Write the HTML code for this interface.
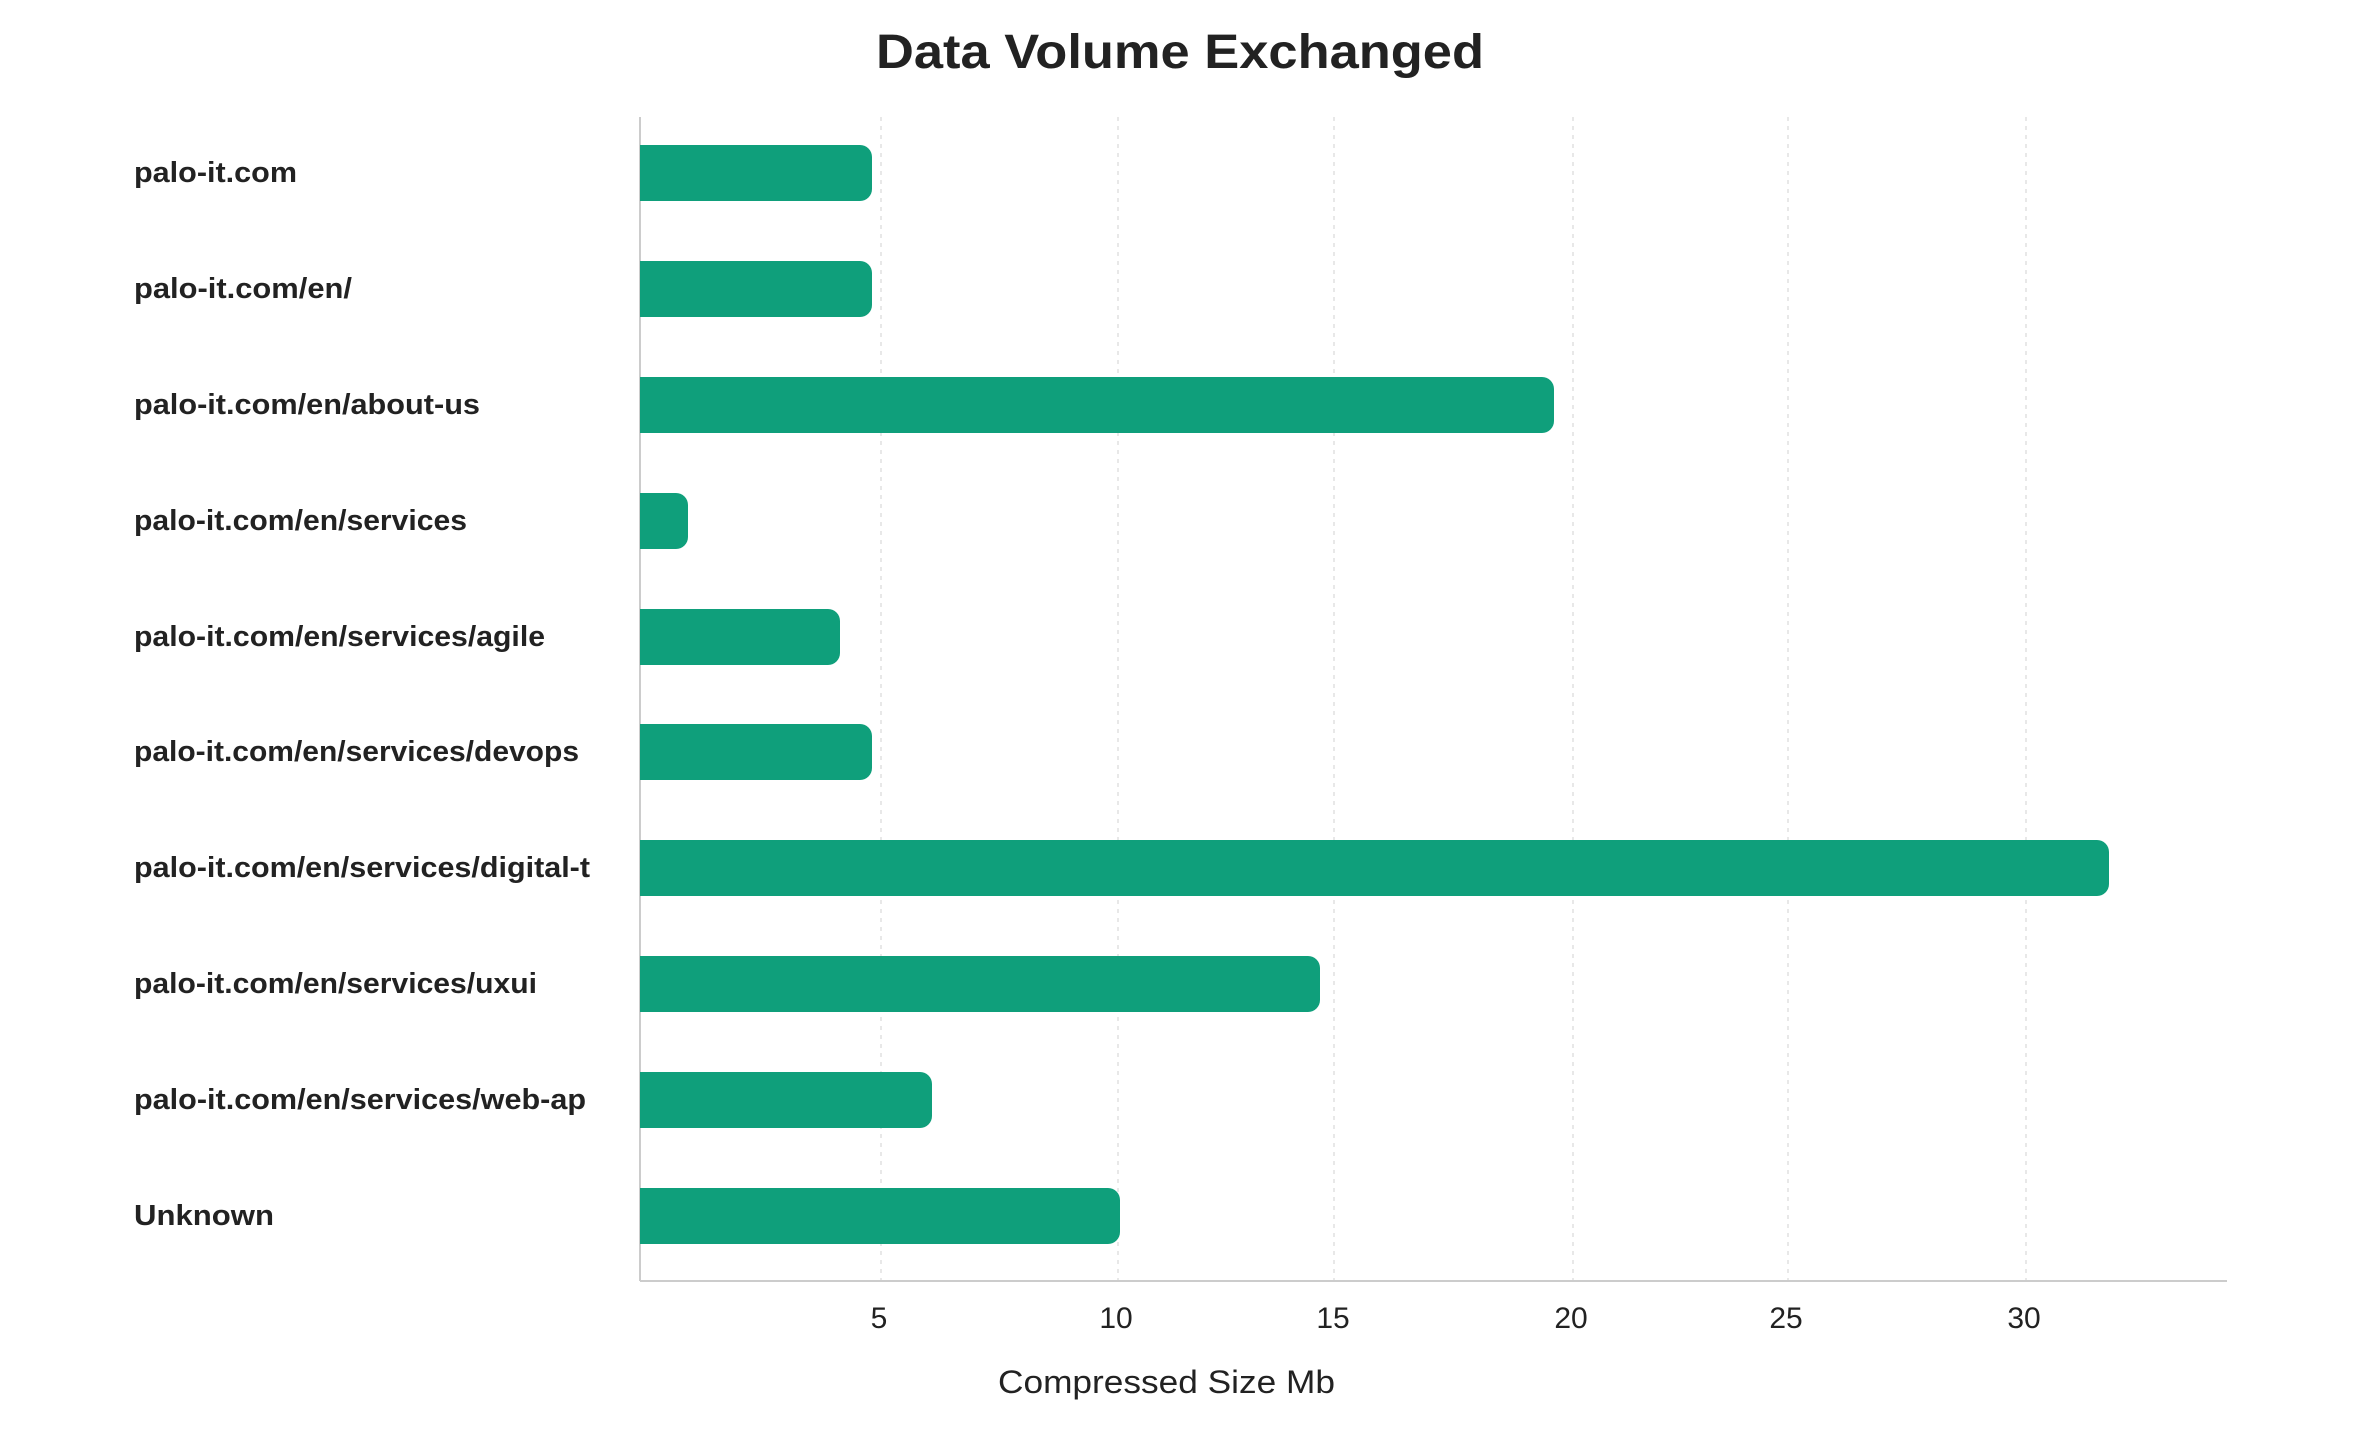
<!DOCTYPE html>
<html><head><meta charset="utf-8"><style>
html,body{margin:0;padding:0;background:#fff;}
svg{display:block;font-family:"Liberation Sans",sans-serif;}
</style></head><body>
<svg width="2360" height="1440" viewBox="0 0 2360 1440" xmlns="http://www.w3.org/2000/svg">
<text x="876" y="68" textLength="608" lengthAdjust="spacingAndGlyphs" font-size="48" font-weight="bold" fill="#222">Data Volume Exchanged</text>
<g stroke="#e8e8e8" stroke-width="2" stroke-dasharray="4,5">
<line x1="881" y1="117" x2="881" y2="1281"/>
<line x1="1118" y1="117" x2="1118" y2="1281"/>
<line x1="1334" y1="117" x2="1334" y2="1281"/>
<line x1="1573" y1="117" x2="1573" y2="1281"/>
<line x1="1788" y1="117" x2="1788" y2="1281"/>
<line x1="2026" y1="117" x2="2026" y2="1281"/>
</g>
<line x1="640" y1="117" x2="640" y2="1281" stroke="#ccc" stroke-width="2"/>
<line x1="640" y1="1281" x2="2227" y2="1281" stroke="#ccc" stroke-width="2"/>
<g fill="#0f9f7b">
<path d="M640,145 H860 a12,12 0 0 1 12,12 V189 a12,12 0 0 1 -12,12 H640 Z"/>
<path d="M640,261 H860 a12,12 0 0 1 12,12 V305 a12,12 0 0 1 -12,12 H640 Z"/>
<path d="M640,377 H1542 a12,12 0 0 1 12,12 V421 a12,12 0 0 1 -12,12 H640 Z"/>
<path d="M640,493 H676 a12,12 0 0 1 12,12 V537 a12,12 0 0 1 -12,12 H640 Z"/>
<path d="M640,609 H828 a12,12 0 0 1 12,12 V653 a12,12 0 0 1 -12,12 H640 Z"/>
<path d="M640,724 H860 a12,12 0 0 1 12,12 V768 a12,12 0 0 1 -12,12 H640 Z"/>
<path d="M640,840 H2097 a12,12 0 0 1 12,12 V884 a12,12 0 0 1 -12,12 H640 Z"/>
<path d="M640,956 H1308 a12,12 0 0 1 12,12 V1000 a12,12 0 0 1 -12,12 H640 Z"/>
<path d="M640,1072 H920 a12,12 0 0 1 12,12 V1116 a12,12 0 0 1 -12,12 H640 Z"/>
<path d="M640,1188 H1108 a12,12 0 0 1 12,12 V1232 a12,12 0 0 1 -12,12 H640 Z"/>
</g>
<g font-size="29" font-weight="bold" fill="#222" lengthAdjust="spacingAndGlyphs">
<text x="134" y="182" textLength="163" lengthAdjust="spacingAndGlyphs">palo-it.com</text>
<text x="134" y="298" textLength="218" lengthAdjust="spacingAndGlyphs">palo-it.com/en/</text>
<text x="134" y="414" textLength="346" lengthAdjust="spacingAndGlyphs">palo-it.com/en/about-us</text>
<text x="134" y="530" textLength="333" lengthAdjust="spacingAndGlyphs">palo-it.com/en/services</text>
<text x="134" y="646" textLength="411" lengthAdjust="spacingAndGlyphs">palo-it.com/en/services/agile</text>
<text x="134" y="761" textLength="445" lengthAdjust="spacingAndGlyphs">palo-it.com/en/services/devops</text>
<text x="134" y="877" textLength="456" lengthAdjust="spacingAndGlyphs">palo-it.com/en/services/digital-t</text>
<text x="134" y="993" textLength="403" lengthAdjust="spacingAndGlyphs">palo-it.com/en/services/uxui</text>
<text x="134" y="1109" textLength="452" lengthAdjust="spacingAndGlyphs">palo-it.com/en/services/web-ap</text>
<text x="134" y="1225" textLength="140" lengthAdjust="spacingAndGlyphs">Unknown</text>
</g>
<g font-size="30" fill="#222" text-anchor="middle">
<text x="879" y="1328">5</text>
<text x="1116" y="1328">10</text>
<text x="1333" y="1328">15</text>
<text x="1571" y="1328">20</text>
<text x="1786" y="1328">25</text>
<text x="2024" y="1328">30</text>
</g>
<text x="998" y="1393" textLength="337" lengthAdjust="spacingAndGlyphs" font-size="32" fill="#222">Compressed Size Mb</text>
</svg>
</body></html>
